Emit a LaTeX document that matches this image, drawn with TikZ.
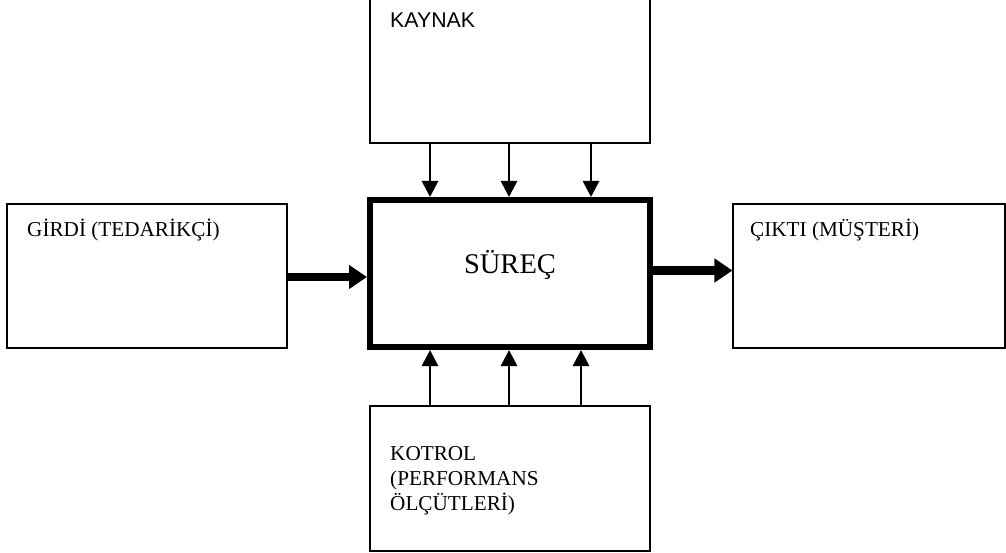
\documentclass[tikz,border=0pt]{standalone}
\usepackage{fontspec}
\setmainfont{Liberation Serif}
\newfontfamily\arialfont{Liberation Sans}
\usetikzlibrary{arrows.meta}
\tikzset{
  box/.style={draw, line width=1.1pt, rectangle, inner sep=0pt},
  procbox/.style={draw, line width=6pt, rectangle, inner sep=0pt},
  thinarrow/.style={line width=2.8pt, -{Triangle[length=16pt,width=16pt]}},
  thickarrow/.style={line width=8.5pt, -{Triangle[length=18pt,width=23pt]}},
  lbl/.style={inner sep=0pt, anchor=base west, font=\fontsize{21.2}{25}\selectfont},
}
\begin{document}
\begin{tikzpicture}[x=1pt,y=-1pt]
\useasboundingbox (0,0) rectangle (1006,553);
% boxes
\node[box, minimum width=280pt, minimum height=150pt] (kaynak) at (510,68) {};
\node[procbox, minimum width=280pt, minimum height=147pt] (surec) at (510,273.5) {};
\node[box, minimum width=280pt, minimum height=144pt] (girdi) at (147,276) {};
\node[box, minimum width=272pt, minimum height=144pt] (cikti) at (869,276) {};
\node[box, minimum width=280pt, minimum height=145pt] (kotrol) at (510,478.5) {};
% labels
\node[lbl, font=\arialfont\fontsize{21.3}{25}\selectfont] (kaynaklbl) at (390,28) {KAYNAK};
\node[inner sep=0pt, anchor=base, font=\fontsize{28.5}{32}\selectfont] (sureclbl) at (510,273) {SÜREÇ};
\node[lbl] (girdilbl) at (27,237) {GİRDİ (TEDARİKÇİ)};
\node[lbl] (ciktilbl) at (750,237) {ÇIKTI (MÜŞTERİ)};
\node[lbl, align=left] (kotrollbl) at (390,510) {KOTROL\\(PERFORMANS\\ÖLÇÜTLERİ)};
% arrow positions
\coordinate (a1) at (430,0);
\coordinate (a2) at (509,0);
\coordinate (a3) at (591,0);
\coordinate (b1) at (430,0);
\coordinate (b2) at (509,0);
\coordinate (b3) at (581,0);
% resource arrows
\draw[thinarrow] (kaynak.south -| a1) -- (surec.north -| a1);
\draw[thinarrow] (kaynak.south -| a2) -- (surec.north -| a2);
\draw[thinarrow] (kaynak.south -| a3) -- (surec.north -| a3);
% control arrows
\draw[thinarrow] (kotrol.north -| b1) -- (surec.south -| b1);
\draw[thinarrow] (kotrol.north -| b2) -- (surec.south -| b2);
\draw[thinarrow] (kotrol.north -| b3) -- (surec.south -| b3);
% input / output
\draw[thickarrow] ([yshift=-1pt]girdi.east) -- ([yshift=-1pt]girdi.east -| surec.west);
\draw[thickarrow] ([yshift=3pt]surec.east) -- ([yshift=3pt]surec.east -| cikti.west);
\end{tikzpicture}
\end{document}
